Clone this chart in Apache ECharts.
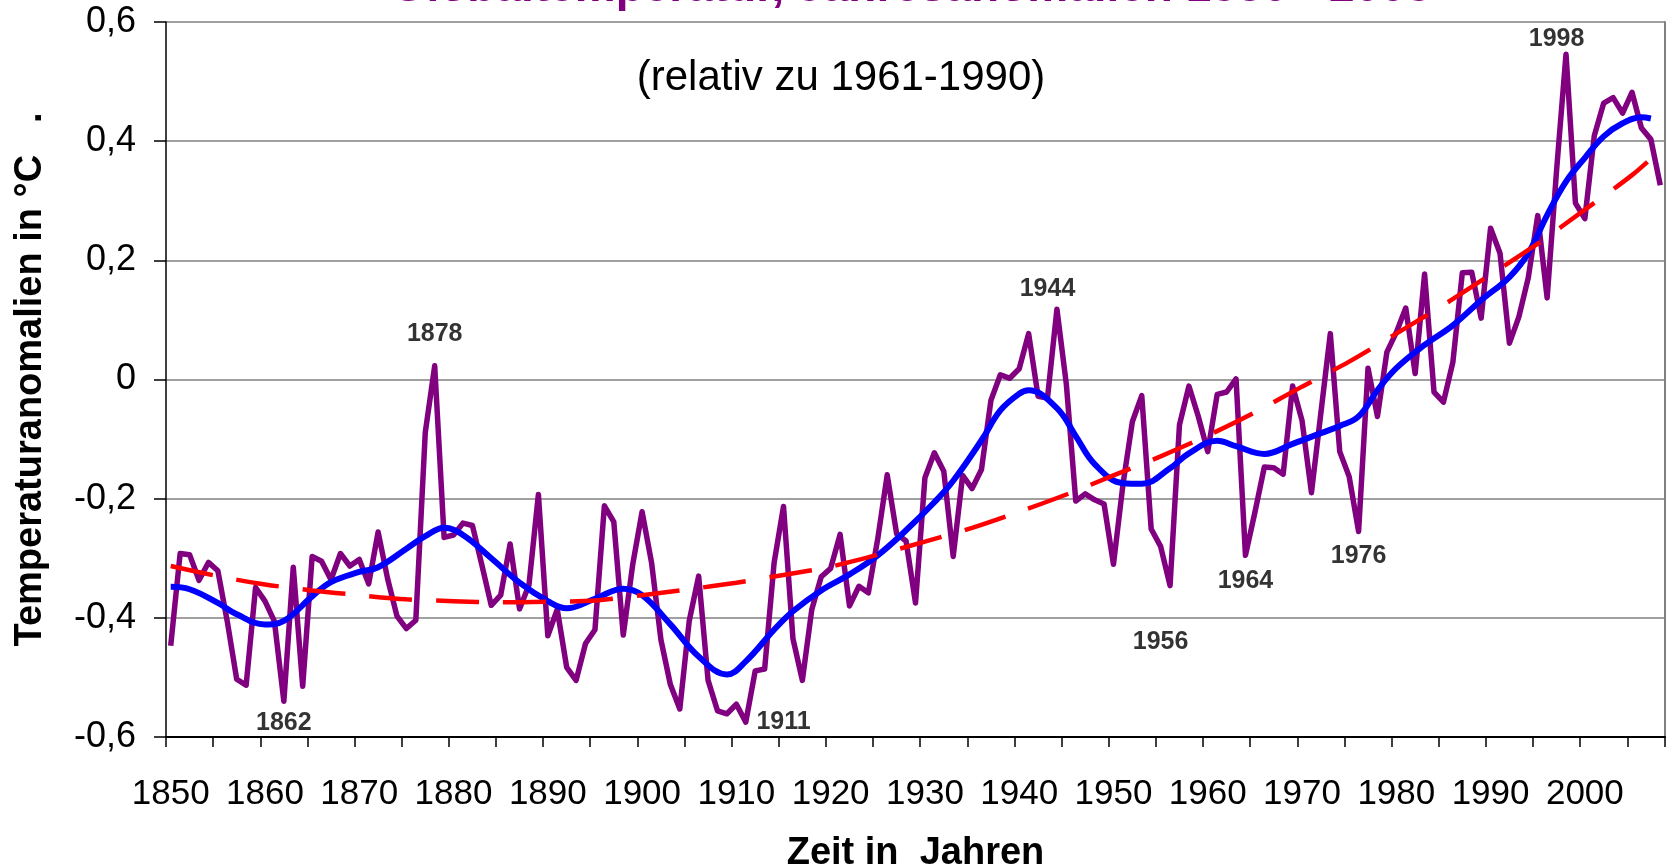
<!DOCTYPE html>
<html>
<head>
<meta charset="utf-8">
<script src="https://cdn.jsdelivr.net/npm/echarts@6/dist/echarts.min.js"></script>
<style>
  html, body { margin: 0; padding: 0; background: #fff; }
  #main { width: 1667px; height: 866px; }
</style>
</head>
<body>
<div id="main"></div>
<script>
// Jahre 1850 - 2008 (Kategorien)
const years = []
for (let y = 1850; y <= 2008; y++) years.push(String(y))

// Jahresanomalien (°C, relativ zu 1961-1990)
const anomalies = [
  -0.447, -0.292, -0.294, -0.337, -0.307, -0.321, -0.406, -0.503, -0.513, -0.349,
  -0.372, -0.406, -0.540, -0.315, -0.515, -0.297, -0.305, -0.336, -0.292, -0.313,
  -0.302, -0.343, -0.256, -0.334, -0.397, -0.418, -0.404, -0.089, 0.023, -0.265,
  -0.261, -0.241, -0.245, -0.311, -0.379, -0.362, -0.276, -0.385, -0.345, -0.193,
  -0.430, -0.386, -0.483, -0.505, -0.443, -0.420, -0.212, -0.239, -0.429, -0.311,
  -0.222, -0.307, -0.437, -0.512, -0.553, -0.405, -0.330, -0.505, -0.556, -0.561,
  -0.545, -0.575, -0.489, -0.486, -0.308, -0.213, -0.435, -0.505, -0.386, -0.331,
  -0.317, -0.260, -0.380, -0.347, -0.358, -0.267, -0.160, -0.259, -0.271, -0.375,
  -0.165, -0.123, -0.154, -0.297, -0.161, -0.183, -0.151, -0.035, 0.008, 0.002,
  0.018, 0.077, -0.028, -0.031, 0.118, -0.008, -0.204, -0.192, -0.202, -0.209,
  -0.310, -0.177, -0.071, -0.027, -0.251, -0.280, -0.346, -0.076, -0.011, -0.062,
  -0.121, -0.025, -0.021, 0.001, -0.295, -0.223, -0.147, -0.148, -0.159, -0.011,
  -0.069, -0.190, -0.056, 0.077, -0.121, -0.163, -0.255, 0.019, -0.062, 0.046,
  0.079, 0.120, 0.010, 0.177, -0.021, -0.038, 0.029, 0.179, 0.180, 0.103,
  0.254, 0.212, 0.061, 0.105, 0.171, 0.275, 0.137, 0.351, 0.546, 0.296,
  0.270, 0.409, 0.464, 0.473, 0.447, 0.482, 0.422, 0.403, 0.326
]

// geglaettete Kurve (blau)
const smoothYears = [
  1850, 1852, 1855, 1857, 1860, 1862, 1865, 1867, 1870, 1872, 1875, 1877, 1879, 1881,
  1884, 1887, 1890, 1892, 1895, 1898, 1900, 1903, 1906, 1909, 1911, 1914, 1916, 1919,
  1922, 1925, 1928, 1931, 1933, 1936, 1938, 1940, 1941, 1944, 1946, 1948, 1951, 1953,
  1956, 1958, 1961, 1963, 1966, 1969, 1972, 1974, 1976, 1978, 1980, 1983, 1986, 1989,
  1992, 1994, 1996, 1998, 2000, 2002, 2004, 2006, 2007
]
const smoothValues = [
  -0.348, -0.352, -0.375, -0.394, -0.411, -0.405, -0.364, -0.340, -0.323, -0.315, -0.284, -0.263, -0.249, -0.261,
  -0.300, -0.341, -0.372, -0.384, -0.368, -0.351, -0.362, -0.411, -0.465, -0.495, -0.473, -0.420, -0.389, -0.354,
  -0.327, -0.295, -0.253, -0.206, -0.170, -0.102, -0.052, -0.024, -0.018, -0.048, -0.095, -0.142, -0.174, -0.175,
  -0.149, -0.124, -0.103, -0.112, -0.125, -0.108, -0.090, -0.078, -0.062, -0.018, 0.019, 0.058, 0.091, 0.133,
  0.172, 0.212, 0.276, 0.332, 0.372, 0.408, 0.430, 0.440, 0.438
]

// Trend (rot gestrichelt)
const trendYears = [
  1850, 1855, 1860, 1865, 1870, 1875, 1880, 1885, 1890, 1895, 1900, 1905, 1910, 1915, 1920, 1925, 1930,
  1935, 1940, 1945, 1950, 1955, 1960, 1965, 1970, 1975, 1980, 1985, 1990, 1995, 2000, 2005, 2008
]
const trendValues = [
  -0.313, -0.330, -0.344, -0.354, -0.362, -0.369, -0.372, -0.374, -0.373, -0.371, -0.362, -0.352, -0.341, -0.328, -0.314, -0.294, -0.272,
  -0.249, -0.222, -0.193, -0.161, -0.129, -0.094, -0.055, -0.012, 0.030, 0.077, 0.125, 0.176, 0.228, 0.285, 0.343, 0.385
]

// Jahreszahlen-Beschriftungen im Diagramm
const noteText = ['1862', '1878', '1911', '1944', '1956', '1964', '1976', '1998']
const noteYears = ['1862', '1878', '1915', '1943', '1955', '1964', '1976', '1997']
const noteValues = [-0.576, 0.076, -0.575, 0.151, -0.440, -0.338, -0.296, 0.571]

const yTicks = { min: -0.6, max: 0.6, step: 0.2 }

const FONT = '"Liberation Sans", Arial, Helvetica, sans-serif'

const chart = echarts.init(document.getElementById('main'))

const fmt = v => (Math.abs(v) < 1e-9 ? '0' : v.toFixed(1).replace('.', ','))

const option = {
  animation: false,
  backgroundColor: '#fff',
  textStyle: { fontFamily: FONT },
  grid: { left: 166, right: 2, top: 22, bottom: 129, containLabel: false, outerBoundsMode: 'none' },
  graphic: [
    {
      type: 'text',
      x: 911,
      y: -12,
      style: {
        text: 'Globaltemperatur, Jahresanomalien 1850 - 2008',
        font: 'bold 46px ' + FONT,
        fill: '#800080',
        align: 'center',
        verticalAlign: 'middle'
      }
    },
    {
      type: 'text',
      x: 841,
      y: 78,
      style: {
        text: '(relativ zu 1961-1990)',
        font: '42px ' + FONT,
        fill: '#000',
        align: 'center',
        verticalAlign: 'middle'
      }
    }
  ],
  xAxis: {
    type: 'category',
    data: years,
    boundaryGap: true,
    name: 'Zeit in  Jahren',
    nameLocation: 'middle',
    nameGap: 98,
    nameTextStyle: { fontSize: 38, fontWeight: 'bold', color: '#000', fontFamily: FONT },
    axisLine: { show: true, onZero: false, lineStyle: { color: '#000', width: 2 } },
    axisTick: { show: true, interval: 4, length: 10, lineStyle: { color: '#000', width: 1.5 } },
    axisLabel: { interval: 9, fontSize: 35, margin: 40, color: '#000', fontFamily: FONT },
    splitLine: { show: false }
  },
  yAxis: [
    {
      type: 'value',
      min: yTicks.min,
      max: yTicks.max,
      interval: yTicks.step,
      name: 'Temperaturanomalien in °C   .',
      nameLocation: 'middle',
      nameGap: 116,
      nameTextStyle: { fontSize: 38, fontWeight: 'bold', color: '#000', fontFamily: FONT },
      axisLine: { show: true, onZero: false, lineStyle: { color: '#000', width: 1.5 } },
      axisTick: { show: true, length: 12, lineStyle: { color: '#000', width: 1.5 } },
      axisLabel: { formatter: fmt, fontSize: 36, margin: 30, color: '#000', fontFamily: FONT },
      splitLine: { show: true, lineStyle: { color: '#808080', width: 1.5 } }
    },
    {
      type: 'value',
      position: 'right',
      min: yTicks.min,
      max: yTicks.max,
      interval: yTicks.step,
      axisLine: { show: true, lineStyle: { color: '#808080', width: 2 } },
      axisTick: { show: false },
      axisLabel: { show: false },
      splitLine: { show: false }
    }
  ],
  series: [
    {
      name: 'Jahresanomalie',
      type: 'line',
      data: anomalies,
      showSymbol: false,
      lineStyle: { color: '#800080', width: 5.5, join: 'round' },
      z: 2
    },
    {
      name: 'geglaettet',
      type: 'line',
      data: smoothYears.map((y, i) => [String(y), smoothValues[i]]),
      showSymbol: false,
      smooth: 0.4,
      lineStyle: { color: '#0000ff', width: 6 },
      z: 3
    },
    {
      name: 'Trend',
      type: 'line',
      data: trendYears.map((y, i) => [String(y), trendValues[i]]),
      showSymbol: false,
      smooth: 0.3,
      lineStyle: { color: '#ff0000', width: 4.5, type: [43, 24], cap: 'butt' },
      z: 4
    },
    {
      name: 'Jahre',
      type: 'scatter',
      data: noteYears.map((y, i) => [y, noteValues[i]]),
      symbolSize: 1,
      itemStyle: { color: 'rgba(0,0,0,0)' },
      label: {
        show: true,
        position: 'inside',
        formatter: p => noteText[p.dataIndex],
        fontSize: 25,
        fontWeight: 'bold',
        color: '#000',
        fontFamily: FONT
      },
      z: 5
    }
  ]
}

chart.setOption(option)
</script>
</body>
</html>
